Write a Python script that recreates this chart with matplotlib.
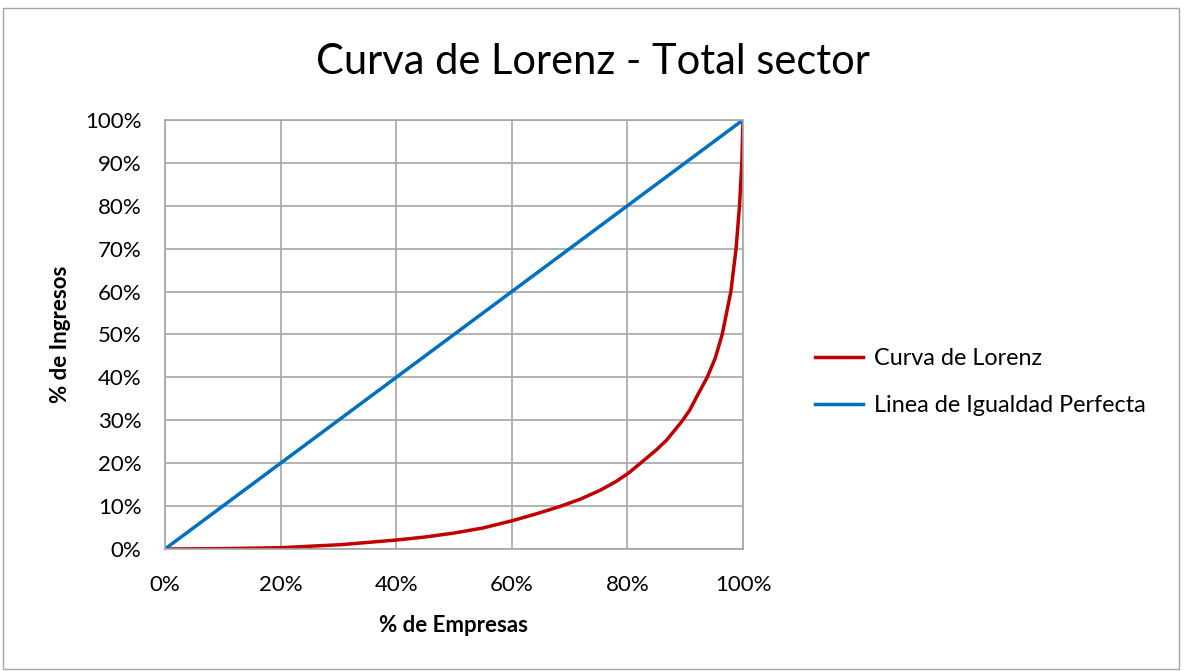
import matplotlib.pyplot as plt
from matplotlib.patches import Rectangle
from matplotlib.ticker import PercentFormatter

# Datos
empresas = [0.0, 0.107, 0.2, 0.303, 0.401, 0.45, 0.499, 0.55, 0.601, 0.645, 0.683,
            0.72, 0.753, 0.78, 0.802, 0.828, 0.85, 0.868, 0.894, 0.908, 0.920, 0.938,
            0.952, 0.964, 0.979, 0.988, 0.994, 0.998, 1.0]
ingresos = [0.0, 0.001, 0.003, 0.010, 0.021, 0.028, 0.037, 0.049, 0.066, 0.083, 0.099,
            0.117, 0.137, 0.157, 0.177, 0.206, 0.231, 0.254, 0.297, 0.324, 0.355, 0.40,
            0.445, 0.50, 0.60, 0.70, 0.80, 0.90, 1.0]
igualdad_x = [0.0, 1.0]
igualdad_y = [0.0, 1.0]

plt.rcParams['font.family'] = ['Lato', 'DejaVu Sans']

fig = plt.figure(figsize=(11.85, 6.71), dpi=100)
ax = fig.add_axes([0.1392, 0.1818, 0.4878, 0.6394])

ax.plot(empresas, ingresos, color='#C00000', linewidth=2.5, label='Curva de Lorenz',
        solid_joinstyle='round')
ax.plot(igualdad_x, igualdad_y, color='#0070C0', linewidth=2.5, label='Linea de Igualdad Perfecta')

ax.set_xlim(0, 1)
ax.set_ylim(0, 1)
ax.set_xticks([0, 0.2, 0.4, 0.6, 0.8, 1.0])
ax.set_yticks([i / 10 for i in range(11)])
ax.xaxis.set_major_formatter(PercentFormatter(1.0, decimals=0))
ax.yaxis.set_major_formatter(PercentFormatter(1.0, decimals=0))
ax.tick_params(labelsize=16, length=0)
ax.tick_params(axis='x', pad=19)
ax.tick_params(axis='y', pad=17)
ax.grid(True, color='#A6A6A6', linewidth=1.2)
for s in ax.spines.values():
    s.set_color('#A6A6A6')
    s.set_linewidth(1.2)
ax.set_axisbelow(True)

ax.set_xlabel('% de Empresas', fontsize=16, fontweight='bold', labelpad=14)
ax.set_ylabel('% de Ingresos', fontsize=16, fontweight='bold', labelpad=10)
fig.text(0.5, 0.907, 'Curva de Lorenz - Total sector', ha='center', va='center', fontsize=30)

ax.legend(loc='center left', bbox_to_anchor=(1.088, 0.389), frameon=False, fontsize=16.8,
          handlelength=2.05, handletextpad=0.5, labelspacing=1.1)

fig.add_artist(Rectangle((0.0025, 0.003), 0.9924, 0.985, transform=fig.transFigure,
                         fill=False, edgecolor='#A6A6A6', linewidth=1))

fig.savefig('out.png', dpi=100)
